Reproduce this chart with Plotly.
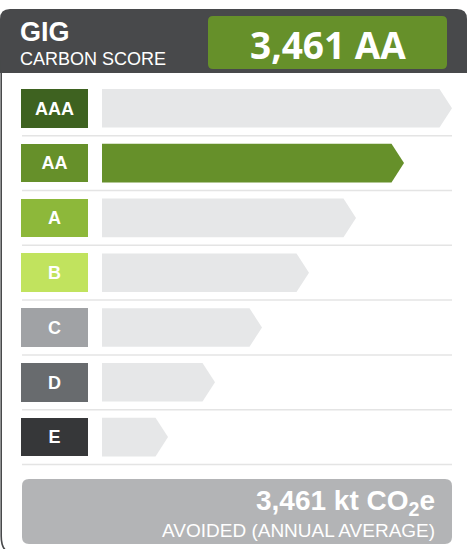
import plotly.graph_objects as go

# Input data
ratings = ["AAA", "AA", "A", "B", "C", "D", "E"]
bar_lengths = [350, 302, 254, 207, 160, 113, 66]  # arrow length per rating
selected_rating = "AA"
score_value = "3,461"
avoided_kt = "3,461"

rating_colors = ["#3e6220", "#66902a", "#8db83a", "#c1e35e", "#a0a2a5", "#686b6e", "#363739"]
bar_grey = "#e6e7e8"
dark = "#48494b"
footer_grey = "#b3b4b6"

W, H = 468, 549
pitch = 54.8
first_center = 108.3
half_h = 0.352
tip = 12.5
bar_x0 = 102
font_main = "Liberation Sans, Arial, sans-serif"

idx = list(range(len(ratings)))

fig = go.Figure()

# arrow bars
for i, (r, L) in enumerate(zip(ratings, bar_lengths)):
    x1 = bar_x0 + L
    fig.add_trace(go.Scatter(
        x=[bar_x0, x1 - tip, x1, x1 - tip, bar_x0, bar_x0],
        y=[i - half_h, i - half_h, i, i + half_h, i + half_h, i - half_h],
        mode="lines", fill="toself", line=dict(width=0),
        fillcolor=rating_colors[i] if r == selected_rating else bar_grey,
        hoverinfo="skip", showlegend=False
    ))

# rating label boxes
fig.add_trace(go.Bar(
    y=idx, x=[67] * len(ratings), base=21, orientation="h",
    width=2 * half_h, marker=dict(color=rating_colors, line=dict(width=0)),
    text=[f"<b>{r}</b>" for r in ratings], textposition="inside",
    insidetextanchor="middle", constraintext="none",
    textfont=dict(family=font_main, size=18, color="white"),
    hoverinfo="skip", showlegend=False
))

shapes = []
# separators between rows
for i in idx:
    shapes.append(dict(type="line", xref="x", yref="y", x0=22, x1=452,
                       y0=i + 0.5, y1=i + 0.5,
                       line=dict(color="#e4e4e4", width=1.5), layer="below"))

# header band
shapes.append(dict(type="path", xref="x", yref="y2",
                   path="M 0,73 L 0,19 Q 0,9 10,9 L 457,9 Q 467,9 467,19 L 467,73 Z",
                   fillcolor=dark, line=dict(width=0)))
# outer frame left edge
shapes.append(dict(type="path", xref="x", yref="y2",
                   path="M 1.2,60 L 1.2,536 Q 1.2,552 12,553",
                   line=dict(color=dark, width=1.6)))
# score box
shapes.append(dict(type="path", xref="x", yref="y2",
                   path="M 208,21 Q 208,16 213,16 L 442,16 Q 447,16 447,21 L 447,64 Q 447,69 442,69 L 213,69 Q 208,69 208,64 Z",
                   fillcolor="#66902a", line=dict(width=0)))
# footer box
shapes.append(dict(type="path", xref="x", yref="y2",
                   path="M 22,486 Q 22,479 29,479 L 445,479 Q 452,479 452,486 L 452,537 Q 452,544 445,544 L 29,544 Q 22,544 22,537 Z",
                   fillcolor=footer_grey, line=dict(width=0)))

annotations = [
    dict(text="<b>GIG</b>", x=18, y=32, xref="x", yref="y2", xanchor="left", yanchor="middle",
         showarrow=False, font=dict(family=font_main, size=27, color="white")),
    dict(text="CARBON SCORE", x=18, y=59, xref="x", yref="y2", xanchor="left", yanchor="middle",
         showarrow=False, font=dict(family=font_main, size=18, color="white")),
    dict(text=f"<b>{score_value} {selected_rating}</b>", x=328, y=44, xref="x", yref="y2",
         xanchor="center", yanchor="middle", showarrow=False,
         font=dict(family="Open Sans, sans-serif", size=37, color="white")),
    dict(text=f"<b>{avoided_kt} kt CO<sub>2</sub>e</b>", x=437, y=502, xref="x", yref="y2",
         xanchor="right", yanchor="middle", showarrow=False,
         font=dict(family=font_main, size=28, color="white")),
    dict(text="AVOIDED (ANNUAL AVERAGE)", x=437, y=530, xref="x", yref="y2",
         xanchor="right", yanchor="middle", showarrow=False,
         font=dict(family=font_main, size=19, color="white")),
]

fig.update_layout(
    width=W, height=H,
    margin=dict(l=0, r=0, t=0, b=0),
    plot_bgcolor="white", paper_bgcolor="white",
    xaxis=dict(range=[0, W], visible=False, fixedrange=True),
    yaxis=dict(range=[(H - first_center) / pitch, -first_center / pitch],
               visible=False, fixedrange=True),
    yaxis2=dict(range=[H, 0], overlaying="y", visible=False, fixedrange=True),
    shapes=shapes,
    annotations=annotations,
    showlegend=False,
    bargap=0,
)

fig.write_html("out.html", config={"displayModeBar": False},
               post_script="document.body.style.margin='0';")
